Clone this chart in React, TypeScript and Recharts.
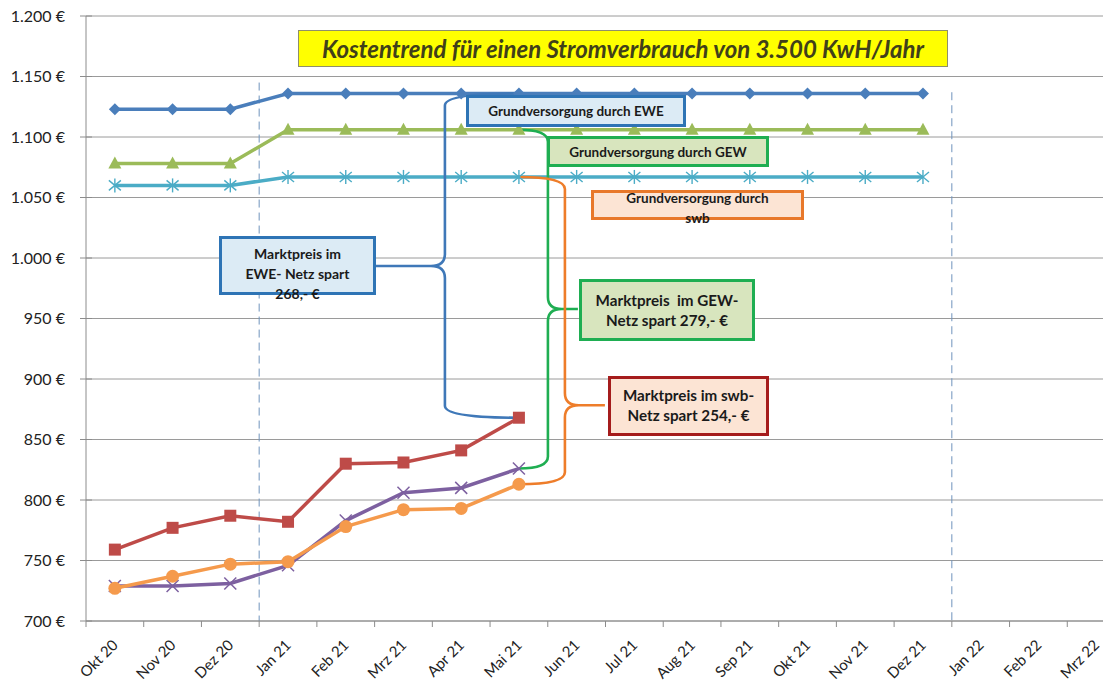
import React from 'react';
import {
  LineChart, Line, XAxis, YAxis, CartesianGrid, ReferenceLine,
} from 'recharts';

const months = [
  'Okt 20', 'Nov 20', 'Dez 20', 'Jan 21', 'Feb 21', 'Mrz 21', 'Apr 21', 'Mai 21', 'Jun 21',
  'Jul 21', 'Aug 21', 'Sep 21', 'Okt 21', 'Nov 21', 'Dez 21', 'Jan 22', 'Feb 22', 'Mrz 22',
];

// Grundversorgung (Okt 20 .. Dez 21)
const grundEwe = [1123, 1123, 1123, 1136, 1136, 1136, 1136, 1136, 1136, 1136, 1136, 1136, 1136, 1136, 1136];
const grundGew = [1078, 1078, 1078, 1106, 1106, 1106, 1106, 1106, 1106, 1106, 1106, 1106, 1106, 1106, 1106];
const grundSwb = [1060, 1060, 1060, 1067, 1067, 1067, 1067, 1067, 1067, 1067, 1067, 1067, 1067, 1067, 1067];

// Marktpreis (Okt 20 .. Mai 21)
const marktEwe = [759, 777, 787, 782, 830, 831, 841, 868];
const marktGew = [729, 729, 731, 746, 783, 806, 810, 826];
const marktSwb = [727, 737, 747, 749, 778, 792, 793, 813];

const yTicks = [700, 750, 800, 850, 900, 950, 1000, 1050, 1100, 1150, 1200];

const data = months.map((m, i) => ({
  month: m,
  grundEwe: grundEwe[i] ?? null,
  grundGew: grundGew[i] ?? null,
  grundSwb: grundSwb[i] ?? null,
  marktEwe: marktEwe[i] ?? null,
  marktGew: marktGew[i] ?? null,
  marktSwb: marktSwb[i] ?? null,
}));

const C = {
  ewe: '#4A7EBB',
  gew: '#9BBB59',
  swb: '#4BACC6',
  red: '#BE4B48',
  purple: '#7D60A0',
  orange: '#F59A4C',
  grid: '#9a9a9a',
};

const FONT = 'Lato, "Open Sans", sans-serif';

const euro = (n: number) =>
  n >= 1000 ? `${Math.floor(n / 1000)}.${String(n % 1000).padStart(3, '0')} €` : `${n} €`;

// ---- markers ----
const Diamond = ({ cx, cy }: any) =>
  cx == null || cy == null ? null : (
    <path d={`M${cx},${cy - 6}L${cx + 6},${cy}L${cx},${cy + 6}L${cx - 6},${cy}Z`} fill={C.ewe} />
  );
const Triangle = ({ cx, cy }: any) =>
  cx == null || cy == null ? null : (
    <path d={`M${cx},${cy - 7}L${cx + 6.5},${cy + 5}L${cx - 6.5},${cy + 5}Z`} fill={C.gew} />
  );
const Star = ({ cx, cy }: any) =>
  cx == null || cy == null ? null : (
    <g stroke={C.swb} strokeWidth={1.4}>
      <line x1={cx - 6} y1={cy - 5} x2={cx + 6} y2={cy + 5} />
      <line x1={cx - 6} y1={cy + 5} x2={cx + 6} y2={cy - 5} />
      <line x1={cx} y1={cy - 7} x2={cx} y2={cy + 7} />
    </g>
  );
const Square = ({ cx, cy }: any) =>
  cx == null || cy == null ? null : (
    <rect x={cx - 6} y={cy - 6} width={12} height={12} fill={C.red} />
  );
const Cross = ({ cx, cy }: any) =>
  cx == null || cy == null ? null : (
    <g stroke={C.purple} strokeWidth={1.5}>
      <line x1={cx - 6} y1={cy - 6} x2={cx + 6} y2={cy + 6} />
      <line x1={cx - 6} y1={cy + 6} x2={cx + 6} y2={cy - 6} />
    </g>
  );
const Dot = ({ cx, cy }: any) =>
  cx == null || cy == null ? null : <circle cx={cx} cy={cy} r={6.5} fill={C.orange} />;

// ---- axis ticks ----
const XTick = ({ x, y, payload }: any) => {
  const off = payload?.offset || 28.85;
  const ax = x + 4;
  const ay = y + 25;
  return (
    <g>
      <line x1={x - off} x2={x - off} y1={y} y2={y + 6} stroke="#8c8c8c" />
      <text
        x={ax}
        y={ay}
        transform={`rotate(-45 ${ax} ${ay})`}
        textAnchor="end"
        fontSize={15}
        fontFamily={FONT}
        fill="#222"
      >
        {payload.value}
      </text>
    </g>
  );
};

const YTick = ({ x, y, payload }: any) => (
  <g>
    <line x1={x - 6} x2={x + 6} y1={y} y2={y} stroke="#8c8c8c" />
    <text x={x - 21} y={y + 5.5} textAnchor="end" fontSize={16} fontFamily={FONT} fill="#222">
      {euro(payload.value)}
    </text>
  </g>
);

// curly brace between two points, spine offset dx, tip offset tipDx, tip at fraction t
const brace = (color: string, dx: number, tipDx: number, t: number) => (p: any) => {
  const { x1, y1, x2, y2 } = p;
  if ([x1, y1, x2, y2].some((v) => v == null || isNaN(v))) return null;
  const r = 12;
  const sx = x1 + dx;
  const tx = x1 + tipDx;
  const ty = y1 + (y2 - y1) * t;
  const dir = Math.sign(tipDx - dx);
  const c = 14;
  const d =
    `M${x1},${y1} Q${sx},${y1} ${sx},${y1 + r} L${sx},${ty - r} ` +
    `Q${sx},${ty} ${sx + dir * c},${ty} L${tx},${ty} ` +
    `M${sx + dir * c},${ty} Q${sx},${ty} ${sx},${ty + r} L${sx},${y2 - r} ` +
    `Q${sx},${y2} ${x2},${y2}`;
  return <path d={d} fill="none" stroke={color} strokeWidth={2.6} />;
};

const boxBase: React.CSSProperties = {
  position: 'absolute',
  boxSizing: 'border-box',
  fontFamily: FONT,
  fontWeight: 700,
  fontSize: 13.5,
  color: '#1a1a1a',
  textAlign: 'center',
  lineHeight: '20px',
};

const notes = [
  { text: 'Grundversorgung durch EWE', left: 466, top: 95, w: 220, h: 32, bg: '#DCEBF5', bd: '#2E74B5', pt: 3, fs: 13.5 },
  { text: 'Grundversorgung durch GEW', left: 547, top: 136, w: 222, h: 31, bg: '#D8E5BE', bd: '#1FAE52', pt: 3, fs: 13.5 },
  { text: 'Grundversorgung durch\nswb', left: 591, top: 190, w: 213, h: 30, bg: '#FCE4D4', bd: '#E8782A', pt: -5, fs: 13.5 },
  { text: 'Marktpreis im\nEWE- Netz spart\n268,- €', left: 219, top: 236, w: 157, h: 59, bg: '#DCEBF5', bd: '#2E74B5', pt: 5, fs: 14 },
  { text: 'Marktpreis  im GEW-\nNetz spart 279,- €', left: 579, top: 279, w: 176, h: 62, bg: '#D8E5BE', bd: '#1FAE52', pt: 8, fs: 15.2 },
  { text: 'Marktpreis im swb-\nNetz spart 254,- €', left: 608, top: 376, w: 161, h: 60, bg: '#FCE4D4', bd: '#A51C1C', pt: 6, fs: 15.2 },
];

export default function App() {
  return (
    <div
      style={{
        position: 'fixed', left: 0, top: 0, width: 1103, height: 683,
        overflow: 'hidden', background: '#fff',
      }}
    >
      <LineChart
        width={1125}
        height={683}
        data={data}
        margin={{ top: 16, right: 0, bottom: 0, left: 0 }}
      >
        <CartesianGrid vertical={false} stroke={C.grid} />
        <XAxis
          dataKey="month"
          scale="band"
          interval={0}
          height={62}
          stroke="#8c8c8c"
          tickLine={false}
          tickSize={0}
          tickMargin={0}
          tick={<XTick />}
        />
        <YAxis
          domain={[700, 1200]}
          ticks={yTicks}
          width={86}
          stroke="#8c8c8c"
          tickLine={false}
          tickSize={0}
          tickMargin={0}
          tick={<YTick />}
        />
        <ReferenceLine
          segment={[{ x: 'Jan 21', y: 1145 }, { x: 'Jan 21', y: 700 }]}
          position="start"
          stroke="#6F93BD"
          strokeDasharray="8 5"
        />
        <ReferenceLine
          segment={[{ x: 'Jan 22', y: 1137 }, { x: 'Jan 22', y: 700 }]}
          position="start"
          stroke="#6F93BD"
          strokeDasharray="8 5"
        />
        <Line dataKey="grundEwe" stroke={C.ewe} strokeWidth={3.5} dot={<Diamond />} activeDot={false} isAnimationActive={false} />
        <Line dataKey="grundGew" stroke={C.gew} strokeWidth={3.5} dot={<Triangle />} activeDot={false} isAnimationActive={false} />
        <Line dataKey="grundSwb" stroke={C.swb} strokeWidth={3.5} dot={<Star />} activeDot={false} isAnimationActive={false} />
        <Line dataKey="marktEwe" stroke={C.red} strokeWidth={3.5} dot={<Square />} activeDot={false} isAnimationActive={false} />
        <Line dataKey="marktGew" stroke={C.purple} strokeWidth={3.5} dot={<Cross />} activeDot={false} isAnimationActive={false} />
        <Line dataKey="marktSwb" stroke={C.orange} strokeWidth={3.5} dot={<Dot />} activeDot={false} isAnimationActive={false} />
        <ReferenceLine
          segment={[{ x: 'Mai 21', y: 1136 }, { x: 'Mai 21', y: 868 }]}
          shape={brace('#3F78B8', -74, -143, 0.532)}
        />
        <ReferenceLine
          segment={[{ x: 'Mai 21', y: 1106 }, { x: 'Mai 21', y: 826 }]}
          shape={brace('#1FAE52', 29, 59, 0.529)}
        />
        <ReferenceLine
          segment={[{ x: 'Mai 21', y: 1067 }, { x: 'Mai 21', y: 813 }]}
          shape={brace('#EE7D2A', 46, 86, 0.743)}
        />
      </LineChart>

      <div
        style={{
          ...boxBase,
          left: 298, top: 30, width: 650, height: 37,
          background: '#FFFF00', border: '1px solid #8f8f6a',
          fontSize: 24, fontStyle: 'italic', color: '#40401a', lineHeight: '35px',
        }}
      >
        Kostentrend für einen Stromverbrauch von 3.500 KwH/Jahr
      </div>

      {notes.map((n) => (
        <div
          key={n.text}
          style={{
            ...boxBase,
            left: n.left, top: n.top, width: n.w, height: n.h,
            background: n.bg, border: `3px solid ${n.bd}`, fontSize: n.fs,
          }}
        >
          <div style={{ position: 'absolute', left: 0, right: 0, top: n.pt, whiteSpace: 'pre' }}>
            {n.text}
          </div>
        </div>
      ))}
    </div>
  );
}
